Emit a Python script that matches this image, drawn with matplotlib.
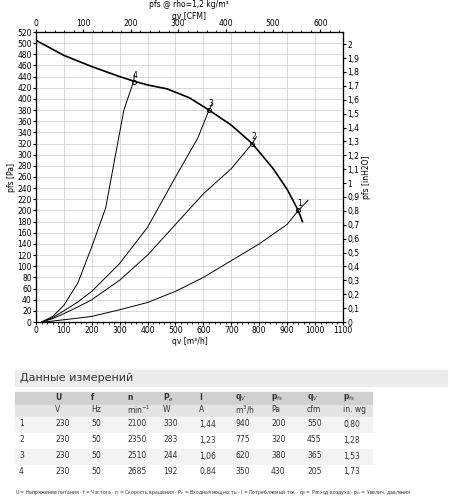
import matplotlib
matplotlib.use("Agg")
import matplotlib.pyplot as plt
from matplotlib.patches import Rectangle
from matplotlib.ticker import MultipleLocator

# fan curve (qv m3/h, pfs Pa)
fan_q = [0, 100, 200, 300, 350, 400, 470, 550, 620, 700, 775, 850, 900, 940, 955]
fan_p = [505, 478, 458, 440, 432, 425, 418, 402, 380, 353, 320, 275, 238, 200, 180]

# system curves 1..4
sys_q = {
    "1": [30, 100, 200, 300, 400, 500, 600, 700, 800, 900, 940, 975],
    "2": [20, 60, 100, 150, 200, 300, 400, 500, 600, 700, 775, 790],
    "3": [20, 60, 100, 150, 200, 300, 400, 500, 580, 620, 632],
    "4": [20, 60, 100, 150, 200, 250, 285, 315, 350, 353],
}
sys_p = {
    "1": [0, 4, 10, 22, 35, 55, 80, 110, 140, 175, 200, 218],
    "2": [0, 6, 15, 27, 40, 75, 120, 175, 230, 275, 320, 332],
    "3": [0, 8, 20, 36, 55, 105, 170, 260, 330, 380, 392],
    "4": [0, 10, 30, 70, 135, 205, 300, 380, 432, 442],
}
op_q = [940, 775, 620, 350]
op_p = [200, 320, 380, 430]

header = ["", "U", "f", "n", "P$_e$", "I", "q$_V$", "p$_{fs}$", "q$_V$", "p$_{fs}$"]
units = ["", "V", "Hz", "min$^{-1}$", "W", "A", "m$^3$/h", "Pa", "cfm", "in. wg"]
rows = [
    ["1", "230", "50", "2100", "330", "1,44", "940", "200", "550", "0,80"],
    ["2", "230", "50", "2350", "283", "1,23", "775", "320", "455", "1,28"],
    ["3", "230", "50", "2510", "244", "1,06", "620", "380", "365", "1,53"],
    ["4", "230", "50", "2685", "192", "0,84", "350", "430", "205", "1,73"],
]

fig = plt.figure(figsize=(4.5, 5), dpi=100)
ax = fig.add_axes([0.08, 0.356, 0.682, 0.58])
ax.plot(fan_q, fan_p, color="black", lw=1.2)
for k in sys_q:
    ax.plot(sys_q[k], sys_p[k], color="black", lw=0.7)
ax.plot(op_q, op_p, "o", mfc="none", mec="black", ms=3, mew=0.6)
for k, q, p in zip(["1", "2", "3", "4"], op_q, op_p):
    ax.text(q + 5, p + 4, k, fontsize=5.5, ha="center", va="bottom")

ax.set_xlim(0, 1100)
ax.set_ylim(0, 520)
ax.xaxis.set_major_locator(MultipleLocator(100))
ax.yaxis.set_major_locator(MultipleLocator(20))
ax.xaxis.set_minor_locator(MultipleLocator(20))
ax.grid(True, color="#cccccc", lw=0.5)
ax.tick_params(labelsize=5.5, length=2, pad=1)
ax.tick_params(which="minor", length=1.5)
ax.set_xlabel("qv [m³/h]", fontsize=5.5, labelpad=1)
ax.set_ylabel("pfs [Pa]", fontsize=5.5, labelpad=1)

ax2 = ax.twinx()
ax2.set_ylim(0, 520 / 249.089)
ax2.yaxis.set_major_locator(MultipleLocator(0.1))
ax2.yaxis.set_major_formatter(lambda v, p: str(int(round(v))) if abs(v - round(v)) < 1e-6 else f"{v:.1f}".replace(".", ","))
ax2.tick_params(labelsize=5.5, length=2, pad=1)
ax2.set_ylabel("pfs [inH2O]", fontsize=5.5, labelpad=2)

ax3 = ax.twiny()
ax3.set_xlim(0, 1100 / 1.699)
ax3.xaxis.set_major_locator(MultipleLocator(100))
ax3.xaxis.set_minor_locator(MultipleLocator(20))
ax3.tick_params(labelsize=5.5, length=2, pad=1)
ax3.tick_params(which="minor", length=1.5)
ax3.set_xlabel("qv [CFM]", fontsize=5.5, labelpad=0)
fig.text(0.42, 0.991, "pfs @ rho=1,2 kg/m³", fontsize=5.5, ha="center", va="center")

# measurement table
fig.patches.append(Rectangle((15 / 450, 1 - 386 / 500), 432 / 450, 16 / 500,
                             transform=fig.transFigure, color="#ececec", zorder=0))
fig.text(20 / 450, 1 - 378 / 500, "Данные измерений", fontsize=8, va="center", color="#333333")
col_x = [15, 51, 87, 123, 159, 195, 231, 267, 303, 339, 373]
row_y = [391, 404, 416, 432, 448, 464, 479]
row_colors = ["#d0d0d0", "#e4e4e4", "#f3f3f3", "#ffffff", "#f3f3f3", "#ffffff"]
all_rows = [header, units] + rows
for r, vals in enumerate(all_rows):
    y0, y1 = row_y[r], row_y[r + 1]
    for c, v in enumerate(vals):
        fig.patches.append(Rectangle((col_x[c] / 450, 1 - y1 / 500), (col_x[c + 1] - col_x[c] - 1) / 450,
                                     (y1 - y0 - 1) / 500, transform=fig.transFigure,
                                     color=row_colors[r], zorder=0))
        fig.text((col_x[c] + 4) / 450, 1 - (y0 + y1) / 2 / 500, v, fontsize=5.5, va="center",
                 weight="bold" if r == 0 else "normal", color="#333333")
fig.text(15 / 450, 1 - 492 / 500,
         "U = Напряжение питания · f = Частота · n = Скорость вращения · P$_e$ = Входная мощность · "
         "I = Потребляемый ток · q$_V$ = Расход воздуха · p$_{fs}$ = Увелич. давления",
         fontsize=3.3, va="center", color="#333333")

fig.savefig("out.png", dpi=100)
